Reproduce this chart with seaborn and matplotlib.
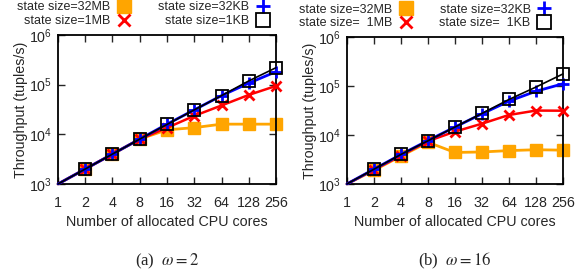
import numpy as np
import pandas as pd
import matplotlib
matplotlib.use("Agg")
import matplotlib.pyplot as plt
from matplotlib.lines import Line2D
import seaborn as sns

# Cores allocated (x axis)
cores = [1, 2, 4, 8, 16, 32, 64, 128, 256]

# (a) omega = 2
a_32mb = [1000, 2000, 4000, 8000, 12300, 13600, 16000, 16000, 16000]
a_1mb = [1000, 2000, 4000, 8000, 13500, 23500, 38000, 62000, 94000]
a_32kb = [1000, 2000, 4000, 8000, 16000, 31000, 60000, 107000, 182000]
a_1kb = [1000, 2000, 4000, 8000, 15800, 31000, 60000, 118600, 219000]

# (b) omega = 16
b_32mb = [1000, 1900, 3700, 7100, 4400, 4500, 4800, 5000, 4900]
b_1mb = [1000, 1950, 3800, 7500, 11700, 17000, 25600, 31500, 31300]
b_32kb = [1000, 2000, 4000, 7700, 14500, 27000, 49000, 78000, 111000]
b_1kb = [1000, 2000, 4000, 7600, 14500, 27500, 53000, 95000, 176000]

labels_a = ["state size=32MB", "state size=1MB", "state size=32KB", "state size=1KB"]
labels_b = ["state size=32MB", "state size=  1MB", "state size=32KB", "state size=  1KB"]
captions = [r"(a)  $\omega = 2$", r"(b)  $\omega = 16$"]

sns.set_style("ticks")
plt.rcParams["font.family"] = ["Liberation Sans", "DejaVu Sans"]
plt.rcParams["mathtext.fontset"] = "stix"

styles = [
    dict(color="#FFA500", marker="s", markersize=8, linewidth=2.0,
         markeredgewidth=1, markeredgecolor="#FFA500", markerfacecolor="#FFA500"),
    dict(color="#FF0000", marker="x", markersize=7, linewidth=1.8,
         markeredgewidth=2, markeredgecolor="#FF0000"),
    dict(color="#0000FF", marker="+", markersize=9, linewidth=2.0,
         markeredgewidth=2, markeredgecolor="#0000FF"),
    dict(color="black", marker="s", markersize=9, linewidth=1.2,
         markeredgewidth=1.3, markeredgecolor="black", markerfacecolor="none"),
]

fig = plt.figure(figsize=(5.87, 2.75), dpi=100)
ax_a = fig.add_axes([0.0988, 0.331, 0.3714, 0.542])
ax_b = fig.add_axes([0.591, 0.331, 0.368, 0.5345])

panels = [
    (ax_a, [a_32mb, a_1mb, a_32kb, a_1kb], labels_a, captions[0], 0.39),
    (ax_b, [b_32mb, b_1mb, b_32kb, b_1kb], labels_b, captions[1], 0.36),
]

for ax, series, labels, cap, leg_x in panels:
    handles = []
    for i, (vals, lab, st) in enumerate(zip(series, labels, styles)):
        df = pd.DataFrame({"cores": cores, "tput": vals})
        sns.lineplot(data=df, x="cores", y="tput", ax=ax, linestyle="-",
                     markevery=slice(1, None), clip_on=False, zorder=2 + i,
                     legend=False, **st)
        leg_st = {k: v for k, v in st.items() if k != "linewidth"}
        leg_st["markersize"] = st["markersize"] + 1.5
        handles.append(Line2D([], [], linestyle="none", label=lab, **leg_st))
    ax.set_xscale("log", base=2)
    ax.set_yscale("log")
    ax.set_xlim(1, 256)
    ax.set_ylim(1e3, 1e6)
    ax.set_xticks(cores)
    ax.set_xticklabels([str(c) for c in cores])
    ax.set_yticks([1e3, 1e4, 1e5, 1e6])
    ax.minorticks_off()
    ax.tick_params(direction="in", top=True, right=True, length=5, width=1,
                   labelsize=10.3)
    ax.tick_params(axis="x", pad=9)
    ax.tick_params(axis="y", pad=4)
    for s in ax.spines.values():
        s.set_linewidth(1.3)
        s.set_color("black")
    ax.set_xlabel("Number of allocated CPU cores", fontsize=10.3, labelpad=3)
    ax.set_ylabel("Throughput (tuples/s)", fontsize=10.3, labelpad=1)
    ax.legend(handles=handles, loc="lower center", bbox_to_anchor=(leg_x, 1.03),
              ncol=2, markerfirst=False, frameon=False, fontsize=9,
              handlelength=1.0, handletextpad=0.6, columnspacing=2.2,
              labelspacing=0.15, borderpad=0.1, borderaxespad=0.15)
    ax.text(0.5, -0.52, cap, transform=ax.transAxes, ha="center", va="center",
            fontsize=12, family=["Liberation Serif", "DejaVu Serif"])

fig.savefig("out.png", dpi=100)
